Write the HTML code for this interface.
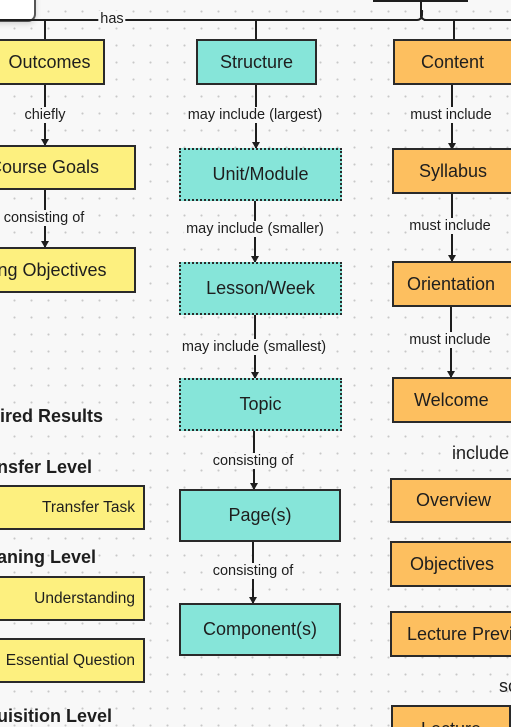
<!DOCTYPE html>
<html style="overflow:hidden;width:511px;height:727px"><head><meta charset="utf-8"><style>
html,body{margin:0;width:511px;height:727px;overflow:hidden}
body{position:relative;background:#f8f8f8;
background-image:radial-gradient(circle,#c8c8c8 0.9px,transparent 1.2px);background-size:17px 17px;background-position:6px 3px;
font-family:"Liberation Sans",sans-serif;color:#1e1e1e}
.b{position:absolute;box-sizing:border-box;border:2.5px solid #2a2a2a;display:flex;align-items:center;justify-content:center;font-size:18px;white-space:nowrap;overflow:hidden}
.y{background:#fdf07f}.t{background:#86e5d9}.o{background:#fdbf5f}
.d{border:2.5px dotted #2a2a2a}
.r{justify-content:flex-end;padding-right:8px;font-size:15.5px}
.l{position:absolute;font-size:14.5px;background:#f8f8f8;white-space:nowrap;transform:translateX(-50%);line-height:16px;padding:0 2px}
.h{position:absolute;font-size:18px;font-weight:bold;white-space:nowrap}
.v{position:absolute;width:2px;background:#1e1e1e}
.a{position:absolute;width:0;height:0;border-left:4px solid transparent;border-right:4px solid transparent;border-top:7px solid #1e1e1e}
</style></head><body>
<div style="position:absolute;left:-10px;top:-10px;width:42px;height:28px;background:#fff;border:2px solid #555;border-radius:8px;box-shadow:0 2px 6px rgba(0,0,0,.15)"></div>
<div style="position:absolute;left:373px;top:0;width:95px;height:2px;background:#1e1e1e"></div>
<div style="position:absolute;left:0;top:19px;width:417px;height:2px;background:#1e1e1e"></div>
<div style="position:absolute;left:424px;top:19px;width:87px;height:2px;background:#1e1e1e"></div>
<div class="v" style="left:420px;top:0;height:17px"></div>
<div style="position:absolute;left:413px;top:10px;width:8px;height:9px;border-bottom:2px solid #1e1e1e;border-right:2px solid #1e1e1e;border-bottom-right-radius:6px"></div>
<div style="position:absolute;left:420px;top:10px;width:8px;height:9px;border-bottom:2px solid #1e1e1e;border-left:2px solid #1e1e1e;border-bottom-left-radius:6px"></div>
<div class="l" style="left:112px;top:11px">has</div>

<div class="v" style="left:44px;top:20px;height:20px"></div>
<div class="v" style="left:255px;top:20px;height:20px"></div>
<div class="v" style="left:453px;top:20px;height:20px"></div>

<!-- left column -->
<div class="b y" style="left:-16px;top:39px;width:121px;height:46px">&nbsp;&nbsp;Outcomes</div>
<div class="v" style="left:44px;top:85px;height:60px"></div><div class="a" style="left:41px;top:139px"></div>
<div class="l" style="left:45px;top:107px">chiefly</div>
<div class="b y" style="left:-48px;top:145px;width:184px;height:45px">Course Goals</div>
<div class="v" style="left:44px;top:190px;height:57px"></div><div class="a" style="left:41px;top:241px"></div>
<div class="l" style="left:44px;top:210px">consisting of</div>
<div class="b y" style="left:-82px;top:247px;width:218px;height:46px">Learning Objectives</div>
<div class="h" style="left:-5px;top:406px">&nbsp;ired Results</div>
<div class="h" style="left:-3px;top:457px">nsfer Level</div>
<div class="b y r" style="left:-8px;top:485px;width:153px;height:45px">Transfer Task</div>
<div class="h" style="left:-3px;top:547px">aning Level</div>
<div class="b y r" style="left:-8px;top:576px;width:153px;height:45px">Understanding</div>
<div class="b y r" style="left:-8px;top:638px;width:153px;height:45px">Essential Question</div>
<div class="h" style="left:-3px;top:706px">uisition Level</div>

<!-- middle -->
<div class="b t" style="left:196px;top:39px;width:121px;height:46px">Structure</div>
<div class="v" style="left:255px;top:85px;height:63px"></div><div class="a" style="left:252px;top:142px"></div>
<div class="l" style="left:255px;top:107px">may include (largest)</div>
<div class="b t d" style="left:179px;top:148px;width:163px;height:53px">Unit/Module</div>
<div class="v" style="left:254px;top:201px;height:61px"></div><div class="a" style="left:251px;top:256px"></div>
<div class="l" style="left:255px;top:221px">may include (smaller)</div>
<div class="b t d" style="left:179px;top:262px;width:163px;height:53px">Lesson/Week</div>
<div class="v" style="left:254px;top:315px;height:63px"></div><div class="a" style="left:251px;top:372px"></div>
<div class="l" style="left:254px;top:339px">may include (smallest)</div>
<div class="b t d" style="left:179px;top:378px;width:163px;height:53px">Topic</div>
<div class="v" style="left:253px;top:431px;height:58px"></div><div class="a" style="left:250px;top:483px"></div>
<div class="l" style="left:253px;top:453px">consisting of</div>
<div class="b t" style="left:179px;top:489px;width:162px;height:53px">Page(s)</div>
<div class="v" style="left:252px;top:542px;height:61px"></div><div class="a" style="left:249px;top:597px"></div>
<div class="l" style="left:253px;top:563px">consisting of</div>
<div class="b t" style="left:179px;top:603px;width:162px;height:53px">Component(s)</div>

<!-- right -->
<div class="b o" style="left:393px;top:39px;width:122px;height:46px;justify-content:flex-start;padding-left:26px">Content</div>
<div class="v" style="left:451px;top:85px;height:64px"></div><div class="a" style="left:448px;top:143px"></div>
<div class="l" style="left:451px;top:107px">must include</div>
<div class="b o" style="left:392px;top:148px;width:125px;height:46px;justify-content:flex-start;padding-left:25px">Syllabus</div>
<div class="v" style="left:451px;top:194px;height:67px"></div><div class="a" style="left:448px;top:255px"></div>
<div class="l" style="left:450px;top:218px">must include</div>
<div class="b o" style="left:392px;top:261px;width:125px;height:46px;justify-content:flex-start;padding-left:13px">Orientation</div>
<div class="v" style="left:450px;top:307px;height:70px"></div><div class="a" style="left:447px;top:371px"></div>
<div class="l" style="left:450px;top:332px">must include</div>
<div class="b o" style="left:392px;top:377px;width:125px;height:46px;justify-content:flex-start;padding-left:20px">Welcome</div>
<div style="position:absolute;left:452px;top:443px;font-size:18px">include</div>
<div class="b o" style="left:390px;top:478px;width:127px;height:45px;justify-content:flex-start;padding-left:24px">Overview</div>
<div class="b o" style="left:390px;top:541px;width:127px;height:46px;justify-content:flex-start;padding-left:18px">Objectives</div>
<div class="b o" style="left:390px;top:611px;width:127px;height:46px;justify-content:flex-start;padding-left:15px">Lecture Preview</div>
<div style="position:absolute;left:499px;top:676px;font-size:18px">sc</div>
<div class="b o" style="left:391px;top:705px;width:120px;height:40px;align-items:flex-start;padding-top:12px">Lecture</div>
</body></html>
